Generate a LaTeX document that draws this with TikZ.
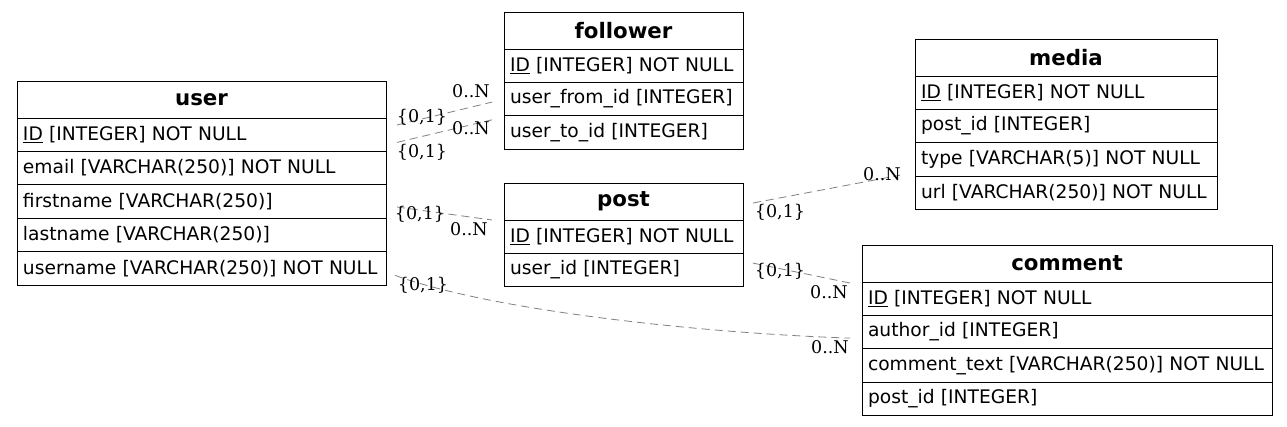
\documentclass[tikz,border=0pt]{standalone}
\usepackage{fontspec}
\setmainfont{DejaVu Sans}
\newfontfamily\cardfont{DejaVu Serif}
\usetikzlibrary{positioning}
\definecolor{relgray}{HTML}{808080}
\tikzset{
  tblhead/.style={draw, line width=1pt, outer sep=0pt, minimum height=37pt, inner sep=0pt,
    font=\bfseries\fontsize{21.3}{24}\selectfont},
  tblrow/.style={draw, line width=1pt, outer sep=0pt, minimum height=33.4pt, inner xsep=6pt,
    inner ysep=0pt, align=left, font=\fontsize{18.67}{21}\selectfont},
  rel/.style={relgray, line width=0.8pt, dash pattern=on 8pt off 5pt},
  card/.style={inner sep=0pt, font=\cardfont\fontsize{17.5}{19}\selectfont}
}
\begin{document}
\begin{tikzpicture}[x=1pt, y=-1pt, node distance=0pt]
\useasboundingbox (0,0) rectangle (1287,426);
% user
\node[tblhead, minimum width=369pt, anchor=north west] (uhead) at (17,81) {user};
\node[tblrow, text width=357pt, below=of uhead] (uid) {\underline{ID} [INTEGER] NOT NULL};
\node[tblrow, text width=357pt, below=of uid] (uemail) {email [VARCHAR(250)] NOT NULL};
\node[tblrow, text width=357pt, below=of uemail] (ufirst) {firstname [VARCHAR(250)]};
\node[tblrow, text width=357pt, below=of ufirst] (ulast) {lastname [VARCHAR(250)]};
\node[tblrow, text width=357pt, below=of ulast] (uname) {username [VARCHAR(250)] NOT NULL};
% follower
\node[tblhead, minimum width=239pt, anchor=north west] (fhead) at (504,12) {follower};
\node[tblrow, text width=227pt, below=of fhead] (fid) {\underline{ID} [INTEGER] NOT NULL};
\node[tblrow, text width=227pt, below=of fid] (ffrom) {user\_from\_id [INTEGER]};
\node[tblrow, text width=227pt, below=of ffrom] (fto) {user\_to\_id [INTEGER]};
% post
\node[tblhead, minimum width=239pt, anchor=north west] (phead) at (504,183) {post};
\node[tblrow, text width=227pt, below=of phead] (pid) {\underline{ID} [INTEGER] NOT NULL};
\node[tblrow, text width=227pt, below=of pid] (puser) {user\_id [INTEGER]};
% media
\node[tblhead, minimum width=302pt, anchor=north west] (mhead) at (915,39) {media};
\node[tblrow, text width=290pt, below=of mhead] (mid) {\underline{ID} [INTEGER] NOT NULL};
\node[tblrow, text width=290pt, below=of mid] (mpost) {post\_id [INTEGER]};
\node[tblrow, text width=290pt, below=of mpost] (mtype) {type [VARCHAR(5)] NOT NULL};
\node[tblrow, text width=290pt, below=of mtype] (murl) {url [VARCHAR(250)] NOT NULL};
% comment
\node[tblhead, minimum width=410pt, anchor=north west] (chead) at (862,245) {comment};
\node[tblrow, text width=398pt, below=of chead] (cid) {\underline{ID} [INTEGER] NOT NULL};
\node[tblrow, text width=398pt, below=of cid] (cauthor) {author\_id [INTEGER]};
\node[tblrow, text width=398pt, below=of cauthor] (ctext) {comment\_text [VARCHAR(250)] NOT NULL};
\node[tblrow, text width=398pt, below=of ctext] (cpost) {post\_id [INTEGER]};
% relations
\draw[rel] ([xshift=11pt,yshift=-7pt]uid.north east) -- ([xshift=-12pt,yshift=-3pt]ffrom.west);
\draw[rel] ([xshift=11pt,yshift=9pt]uid.south east) -- ([xshift=-12pt,yshift=-4pt]ffrom.south west);
\draw[rel] ([xshift=11pt,yshift=-5.5pt]ufirst.east) -- ([xshift=-12pt]pid.north west);
\draw[rel] ([xshift=9pt,yshift=-7pt]uname.east) .. controls +(95,35) and +(-150,-5) .. ([xshift=-12pt,yshift=-6pt]cauthor.west);
\draw[rel] ([xshift=10pt,yshift=-1.5pt]phead.east) -- ([xshift=-15pt,yshift=1pt]mtype.south west);
\draw[rel] ([xshift=10pt,yshift=7pt]puser.east) -- ([xshift=-12pt,yshift=-1pt]cid.north west);
% cardinalities
\node[card] (c1a) at (422,117) {\{0,1\}};
\node[card] (c1b) at (471,91) {0..N};
\node[card] (c2a) at (422,152) {\{0,1\}};
\node[card] (c2b) at (471,128) {0..N};
\node[card] (c3a) at (420,214) {\{0,1\}};
\node[card] (c3b) at (469,229) {0..N};
\node[card] (c4a) at (423,285) {\{0,1\}};
\node[card] (c4b) at (830,347) {0..N};
\node[card] (c5a) at (780,212) {\{0,1\}};
\node[card] (c5b) at (882,174) {0..N};
\node[card] (c6a) at (780,271) {\{0,1\}};
\node[card] (c6b) at (829,292) {0..N};
\end{tikzpicture}
\end{document}
